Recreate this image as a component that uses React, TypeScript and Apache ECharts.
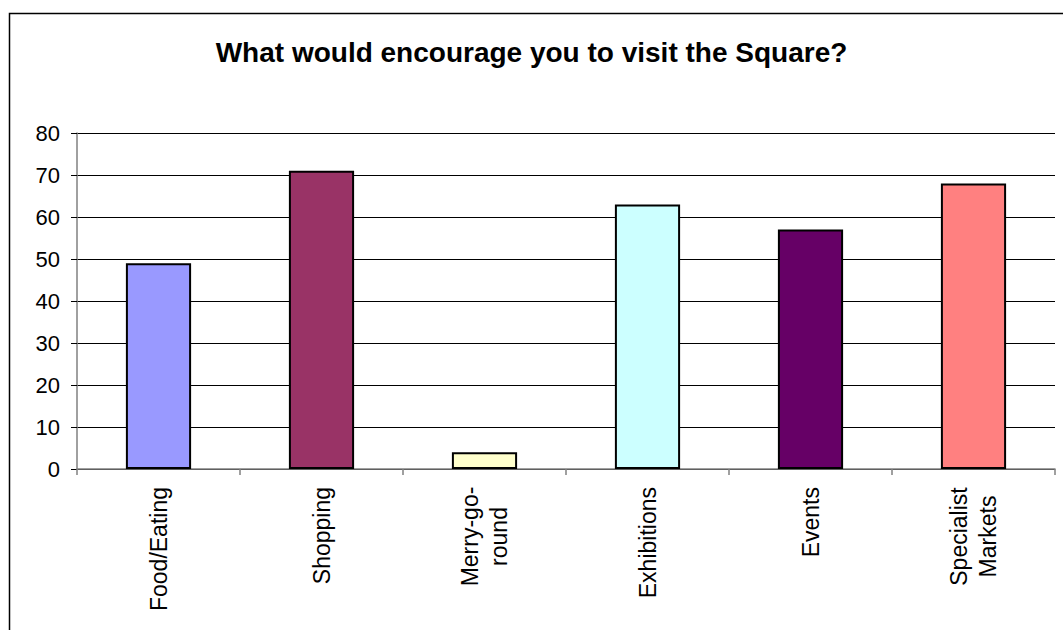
import React, { useEffect, useRef } from "react";
import * as echarts from "echarts";

const titleText = "What would encourage you to visit the Square?";
const categories = ["Food/Eating", "Shopping", "Merry-go-\nround", "Exhibitions", "Events", "Specialist\nMarkets"];
const values = [49, 71, 4, 63, 57, 68];
const barColors = ["#9999FF", "#993366", "#FFFFCC", "#CCFFFF", "#660066", "#FF8080"];
const yTicks = { min: 0, max: 80, interval: 10 };

const FONT = "Arial, 'Liberation Sans', sans-serif";

export default function App() {
  const ref = useRef<HTMLDivElement>(null);
  useEffect(() => {
    if (!ref.current) return;
    const chart = echarts.init(ref.current, undefined, { renderer: "svg" });
    const catData = categories.map((c) => {
      if (c.includes("\n")) {
        return {
          value: c,
          textStyle: { align: "center", padding: [0, 99, 0, 0] },
        };
      }
      return { value: c };
    });
    chart.setOption({
      animation: false,
      backgroundColor: "#ffffff",
      title: {
        text: titleText,
        left: "center",
        top: 33,
        textStyle: { fontFamily: FONT, fontSize: 28, fontWeight: "bold", color: "#000" },
      },
      graphic: [
        {
          type: "rect",
          shape: { x: 9.5, y: 13.5, width: 1200, height: 800 },
          style: { fill: "none", stroke: "#000", lineWidth: 1.5 },
          silent: true,
        },
      ],
      grid: { left: 77, right: 8, top: 133, bottom: 161, containLabel: false },
      xAxis: {
        type: "category",
        data: catData,
        boundaryGap: true,
        axisLine: { show: true, lineStyle: { color: "#808080", width: 1.5 } },
        axisTick: { show: true, alignWithLabel: false, length: 6, lineStyle: { color: "#808080", width: 1.5 } },
        axisLabel: {
          interval: 0,
          rotate: 90,
          margin: 18,
          fontFamily: FONT,
          fontSize: 23,
          color: "#000",
          lineHeight: 29,
        },
      },
      yAxis: {
        type: "value",
        min: yTicks.min,
        max: yTicks.max,
        interval: yTicks.interval,
        axisLine: { show: true, lineStyle: { color: "#808080", width: 1.5 } },
        axisTick: { show: true, length: 6, lineStyle: { color: "#000", width: 1 } },
        splitLine: { show: true, lineStyle: { color: "#000", width: 1 } },
        axisLabel: { margin: 17, fontFamily: FONT, fontSize: 22, color: "#000" },
      },
      series: [
        {
          type: "bar",
          data: values.map((v, i) => ({ value: v, itemStyle: { color: barColors[i] } })),
          barCategoryGap: "60%",
          itemStyle: { borderColor: "#000", borderWidth: 2 },
        },
      ],
    });
    return () => chart.dispose();
  }, []);
  return (
    <div
      ref={ref}
      style={{ position: "absolute", left: 0, top: 0, width: 1063, height: 630 }}
    />
  );
}
